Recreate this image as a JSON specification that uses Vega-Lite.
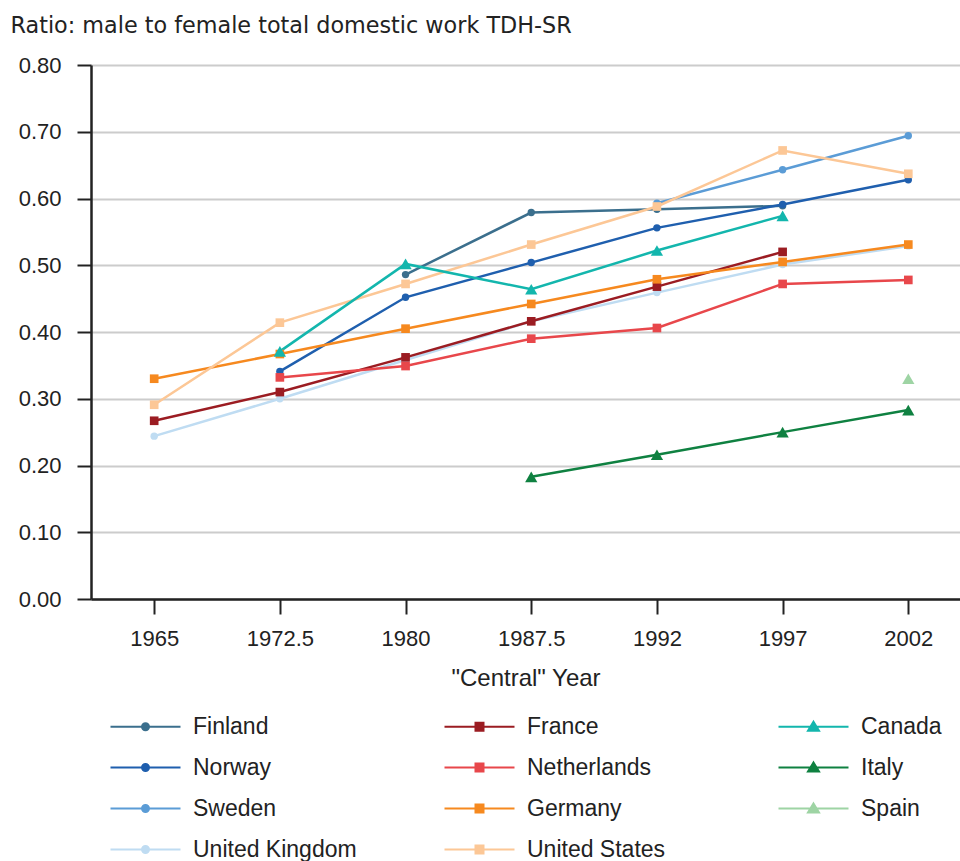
{
  "$schema": "https://vega.github.io/schema/vega-lite/v6.json",
  "width": 869,
  "height": 534,
  "autosize": {"type": "none"},
  "padding": {"left": 91, "top": 65, "right": 0, "bottom": 262},
  "background": "white",
  "config": {
    "view": {"stroke": null},
    "font": "Liberation Sans",
    "axis": {"labelFont": "Liberation Sans", "titleFont": "Liberation Sans", "labelColor": "#222", "titleColor": "#222"}
  },
  "data": {
    "values": [
      {"year": "1980", "country": "Finland", "ratio": 0.486},
      {"year": "1987.5", "country": "Finland", "ratio": 0.579},
      {"year": "1992", "country": "Finland", "ratio": 0.584},
      {"year": "1997", "country": "Finland", "ratio": 0.589},
      {"year": "1972.5", "country": "Norway", "ratio": 0.341},
      {"year": "1980", "country": "Norway", "ratio": 0.452},
      {"year": "1987.5", "country": "Norway", "ratio": 0.504},
      {"year": "1992", "country": "Norway", "ratio": 0.556},
      {"year": "1997", "country": "Norway", "ratio": 0.591},
      {"year": "2002", "country": "Norway", "ratio": 0.628},
      {"year": "1992", "country": "Sweden", "ratio": 0.593},
      {"year": "1997", "country": "Sweden", "ratio": 0.643},
      {"year": "2002", "country": "Sweden", "ratio": 0.694},
      {"year": "1965", "country": "United Kingdom", "ratio": 0.244},
      {"year": "1972.5", "country": "United Kingdom", "ratio": 0.300},
      {"year": "1980", "country": "United Kingdom", "ratio": 0.358},
      {"year": "1987.5", "country": "United Kingdom", "ratio": 0.416},
      {"year": "1992", "country": "United Kingdom", "ratio": 0.459},
      {"year": "1997", "country": "United Kingdom", "ratio": 0.501},
      {"year": "2002", "country": "United Kingdom", "ratio": 0.529},
      {"year": "1965", "country": "France", "ratio": 0.267},
      {"year": "1972.5", "country": "France", "ratio": 0.310},
      {"year": "1980", "country": "France", "ratio": 0.362},
      {"year": "1987.5", "country": "France", "ratio": 0.416},
      {"year": "1992", "country": "France", "ratio": 0.468},
      {"year": "1997", "country": "France", "ratio": 0.520},
      {"year": "1972.5", "country": "Netherlands", "ratio": 0.332},
      {"year": "1980", "country": "Netherlands", "ratio": 0.349},
      {"year": "1987.5", "country": "Netherlands", "ratio": 0.390},
      {"year": "1992", "country": "Netherlands", "ratio": 0.406},
      {"year": "1997", "country": "Netherlands", "ratio": 0.472},
      {"year": "2002", "country": "Netherlands", "ratio": 0.478},
      {"year": "1965", "country": "Germany", "ratio": 0.330},
      {"year": "1972.5", "country": "Germany", "ratio": 0.367},
      {"year": "1980", "country": "Germany", "ratio": 0.405},
      {"year": "1987.5", "country": "Germany", "ratio": 0.442},
      {"year": "1992", "country": "Germany", "ratio": 0.479},
      {"year": "1997", "country": "Germany", "ratio": 0.505},
      {"year": "2002", "country": "Germany", "ratio": 0.531},
      {"year": "1965", "country": "United States", "ratio": 0.291},
      {"year": "1972.5", "country": "United States", "ratio": 0.414},
      {"year": "1980", "country": "United States", "ratio": 0.472},
      {"year": "1987.5", "country": "United States", "ratio": 0.531},
      {"year": "1992", "country": "United States", "ratio": 0.588},
      {"year": "1997", "country": "United States", "ratio": 0.672},
      {"year": "2002", "country": "United States", "ratio": 0.637},
      {"year": "1972.5", "country": "Canada", "ratio": 0.371},
      {"year": "1980", "country": "Canada", "ratio": 0.502},
      {"year": "1987.5", "country": "Canada", "ratio": 0.464},
      {"year": "1992", "country": "Canada", "ratio": 0.522},
      {"year": "1997", "country": "Canada", "ratio": 0.574},
      {"year": "1987.5", "country": "Italy", "ratio": 0.183},
      {"year": "1992", "country": "Italy", "ratio": 0.216},
      {"year": "1997", "country": "Italy", "ratio": 0.250},
      {"year": "2002", "country": "Italy", "ratio": 0.283},
      {"year": "2002", "country": "Spain", "ratio": 0.330}
    ]
  },
  "encoding": {
    "x": {
      "field": "year", "type": "ordinal",
      "sort": ["1965", "1972.5", "1980", "1987.5", "1992", "1997", "2002"],
      "scale": {"type": "point", "padding": 0.457, "align": 0.55},
      "axis": {
        "title": "\"Central\" Year", "titleFontSize": 24, "titleFontWeight": "normal", "titlePadding": 17,
        "labelAngle": 0, "labelFontSize": 22, "labelPadding": 14,
        "tickSize": 15, "tickWidth": 2, "tickColor": "#222",
        "domainColor": "#222", "domainWidth": 2.5, "grid": false
      }
    },
    "y": {
      "field": "ratio", "type": "quantitative",
      "scale": {"domain": [0, 0.8], "nice": false},
      "axis": {
        "values": [0, 0.1, 0.2, 0.3, 0.4, 0.5, 0.6, 0.7, 0.8],
        "format": ".2f",
        "title": "Ratio: male to female total domestic work TDH-SR",
        "titleFont": "DejaVu Sans",
        "titleAngle": 0, "titleAlign": "left", "titleBaseline": "alphabetic",
        "titleX": -81, "titleY": -33, "titleFontSize": 22.3, "titleFontWeight": "normal",
        "labelFontSize": 22, "labelPadding": 16,
        "tickSize": 14, "tickWidth": 2, "tickColor": "#222",
        "domainColor": "#222", "domainWidth": 2.5,
        "grid": true, "gridColor": "#cccccc", "gridWidth": 2
      }
    },
    "color": {
      "field": "country", "type": "nominal",
      "scale": {
        "domain": ["Finland", "Norway", "Sweden", "United Kingdom", "France", "Netherlands", "Germany", "United States", "Canada", "Italy", "Spain"],
        "range": ["#3b6f8d", "#1f5fae", "#5b9cd6", "#bfdcf2", "#9b1c22", "#e8474b", "#f6891f", "#fcc796", "#13b6ad", "#0f8141", "#9ed4a4"]
      },
      "legend": {
        "title": null, "orient": "none", "legendX": 18, "legendY": 650,
        "columns": 3, "gridAlign": "all", "columnPadding": 83, "rowPadding": 17,
        "padding": 0,
        "symbolSize": 400, "labelOffset": 61,
        "labelFont": "Liberation Sans", "labelFontSize": 23, "labelColor": "#222", "labelLimit": 400,
        "encode": {
          "symbols": {
            "update": {
              "shape": {"signal": "indexof(['Finland','Norway','Sweden','United Kingdom'], datum.value) >= 0 ? 'M-1,0H6M2.85,0A0.35,0.35,0,1,1,2.15,0A0.35,0.35,0,1,1,2.85,0Z' : (indexof(['Canada','Italy','Spain'], datum.value) >= 0 ? 'M-1,0H6M2.5,-0.5L3.05,0.4H1.95Z' : 'M-1,0H6M2.1,-0.4H2.9V0.4H2.1Z')"},
              "fill": {"signal": "scale('color', datum.value)"},
              "stroke": {"signal": "scale('color', datum.value)"},
              "strokeWidth": {"value": 2},
              "opacity": {"value": 1},
              "fillOpacity": {"value": 1},
              "strokeOpacity": {"value": 1}
            }
          }
        }
      }
    }
  },
  "layer": [
    {
      "mark": {"type": "line", "strokeWidth": 2.5}
    },
    {
      "transform": [{"filter": {"field": "country", "oneOf": ["Finland", "Norway", "Sweden", "United Kingdom"]}}],
      "mark": {"type": "point", "filled": true, "opacity": 1, "shape": "circle", "size": 55}
    },
    {
      "transform": [{"filter": {"field": "country", "oneOf": ["France", "Netherlands", "Germany", "United States"]}}],
      "mark": {"type": "point", "filled": true, "opacity": 1, "shape": "square", "size": 75}
    },
    {
      "transform": [{"filter": {"field": "country", "oneOf": ["Canada", "Italy", "Spain"]}}],
      "mark": {"type": "point", "filled": true, "opacity": 1, "shape": "triangle-up", "size": 150}
    }
  ]
}
